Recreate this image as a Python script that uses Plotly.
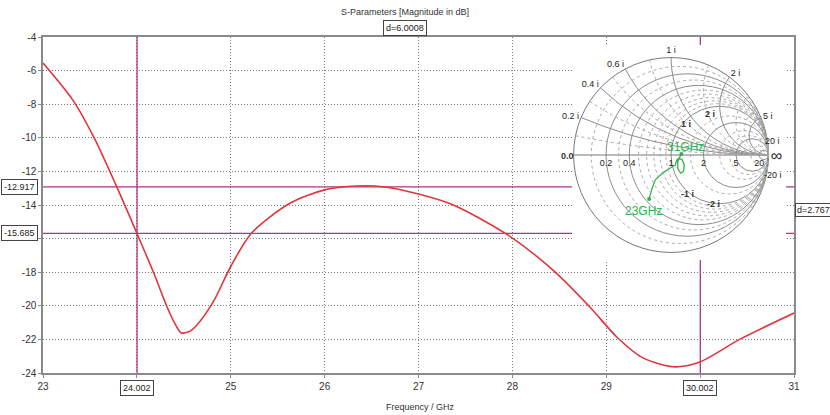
import plotly.graph_objects as go

# ---- main S11 curve ----
freq_ghz = [23.0, 23.32, 23.54, 23.78, 24.0, 24.18, 24.32, 24.40, 24.47, 24.55, 24.63, 24.81,
            25.0, 25.22, 25.63, 26.0, 26.34, 26.62, 27.0, 27.37, 27.95, 28.43, 28.82, 29.12,
            29.39, 29.71, 29.99, 30.42, 31.0]
s11_db = [-5.55, -7.77, -9.95, -12.85, -15.68, -18.05, -20.04, -21.0, -21.6, -21.55, -21.2, -19.8,
          -17.66, -15.68, -13.9, -13.1, -12.87, -12.91, -13.35, -14.0, -15.78, -17.86, -20.04, -21.9,
          -23.1, -23.63, -23.36, -22.0, -20.43]

# markers
marker_x = [24.002, 30.002]
marker_y = [-12.917, -15.685]
marker_x_labels = ["24.002", "30.002"]
marker_y_labels = ["-12.917", "-15.685"]
dx_label = "d=6.0008"
dy_label = "d=2.767"

x_range = [23, 31]
y_range = [-24, -4]
x_ticks = [23, 24, 25, 26, 27, 28, 29, 30, 31]
x_ticktext = ["23", "", "25", "26", "27", "28", "29", "", "31"]
y_ticks = [-4, -6, -8, -10, -12, -14, -16, -18, -20, -22, -24]
y_ticktext = ["-4", "-6", "-8", "-10", "-12", "-14", "", "-18", "-20", "-22", "-24"]

# ---- Smith chart trace (reflection coefficient) ----
gamma_re = [-0.225, -0.199, -0.162, -0.088, -0.013, 0.043, 0.061, 0.080, 0.117, 0.136, 0.128,
            0.099, 0.069, 0.069, 0.091, 0.106]
gamma_im = [-0.451, -0.356, -0.254, -0.186, -0.136, -0.102, -0.051, -0.034, -0.051, -0.102, -0.169,
            -0.186, -0.136, -0.068, -0.017, 0.010]
smith_real_ticks = [0.2, 0.4, 1, 2, 5, 20]
smith_imag_ticks = [0.2, 0.4, 0.6, 1, 2, 5]
smith_real_minor = [0.1, 0.3, 0.5, 0.6, 0.7, 0.8, 0.9, 1.5, 3, 4, 10]
smith_imag_minor = [0.1, 0.3, 0.5, 0.8, 1.5, 3, 4, 10, 20]

z = [(1 + complex(a, b)) / (1 - complex(a, b)) for a, b in zip(gamma_re, gamma_im)]
z_re = [v.real for v in z]
z_im = [v.imag for v in z]

FONT = "Liberation Sans Narrow, Liberation Sans, Arial, sans-serif"
RED = "#e0353b"
MAG = "#b0357f"
GREEN = "#2fb34a"
GRID = "#7a7a7a"

fig = go.Figure()

# marker lines
for mx in marker_x:
    fig.add_trace(go.Scatter(x=[mx, mx], y=y_range, mode="lines", line=dict(color=MAG, width=1.3),
                             showlegend=False, hoverinfo="skip"))
for my in marker_y:
    fig.add_trace(go.Scatter(x=x_range, y=[my, my], mode="lines", line=dict(color=MAG, width=1.3),
                             showlegend=False, hoverinfo="skip"))

fig.add_trace(go.Scatter(x=freq_ghz, y=s11_db, mode="lines",
                         line=dict(color=RED, width=1.6, shape="spline", smoothing=0.8),
                         showlegend=False, hoverinfo="x+y"))

# white backdrop of the inset (overlay axes in paper-like units)
fig.add_trace(go.Scatter(x=[0.7044, 0.9893, 0.9893, 0.7044, 0.7044], y=[0.336, 0.336, 0.976, 0.976, 0.336],
                         xaxis="x2", yaxis="y2", mode="lines", fill="toself", fillcolor="white",
                         line=dict(width=0, color="white"), showlegend=False, hoverinfo="skip"))

# dashed minor grid smith
fig.add_trace(go.Scattersmith(real=[1], imag=[0], mode="markers", marker=dict(opacity=0),
                              subplot="smith2", showlegend=False, hoverinfo="skip"))
fig.add_trace(go.Scattersmith(real=z_re, imag=z_im, mode="lines", line=dict(color=GREEN, width=1.3),
                              subplot="smith", showlegend=False))
fig.add_trace(go.Scattersmith(real=[z_re[0], z_re[-1]], imag=[z_im[0], z_im[-1]], mode="markers",
                              marker=dict(color=GREEN, size=4), subplot="smith", showlegend=False))

annotations = []
box = dict(bordercolor="#444", borderwidth=1, bgcolor="white", borderpad=2,
           font=dict(family=FONT, size=9, color="#222"), showarrow=False)
for my, lab in zip(marker_y, marker_y_labels):
    annotations.append(dict(text=lab, xref="paper", yref="y", x=-0.006, y=my, xanchor="right", yanchor="middle", **box))
for mx, lab in zip(marker_x, marker_x_labels):
    annotations.append(dict(text=lab, xref="x", yref="paper", x=mx, y=-0.045, xanchor="center", yanchor="middle", **box))
annotations.append(dict(text=dx_label, xref="paper", yref="paper", x=0.482, y=1.027, xanchor="center", yanchor="middle", **box))
box_r = dict(box)
box_r["borderpad"] = 1
annotations.append(dict(text=dy_label, xref="paper", yref="y", x=1.0015, y=(marker_y[0] + marker_y[1]) / 2,
                        xanchor="left", yanchor="middle", **box_r))
annotations.append(dict(text="S-Parameters [Magnitude in dB]", xref="paper", yref="paper", x=0.482, y=1.074,
                        xanchor="center", yanchor="middle", showarrow=False, font=dict(family=FONT, size=9, color="#333")))
annotations.append(dict(text="Frequency / GHz", xref="paper", yref="paper", x=0.502, y=-0.101,
                        xanchor="center", yanchor="middle", showarrow=False, font=dict(family=FONT, size=9, color="#333")))
# smith chart labels
sf = dict(family=FONT, size=9, color="#333")
annotations.append(dict(text="<b>0.0</b>", xref="paper", yref="paper", x=(576 - 43) / 751, y=(373 - 156) / 336,
                        showarrow=False, font=sf))
for txt, px, py in [("1 i", 693, 117), ("2 i", 717, 107), ("-1 i", 696, 194), ("-2 i", 722, 204)]:
    annotations.append(dict(text="<b>" + txt + "</b>", xref="paper", yref="paper", x=(px - 43) / 751, y=(373 - py) / 336,
                            showarrow=False, font=sf))
for txt, px, py in [("20 i", 782, 134), ("-20 i", 784, 175)]:
    annotations.append(dict(text=txt, xref="paper", yref="paper", x=(px - 43) / 751, y=(373 - py) / 336,
                            showarrow=False, font=dict(family=FONT, size=9, color="#222")))
annotations.append(dict(text="31GHz", xref="paper", yref="paper", x=(706 - 43) / 751, y=(373 - 138) / 336,
                        showarrow=False, font=dict(family=FONT, size=12, color=GREEN)))
annotations.append(dict(text="23GHz", xref="paper", yref="paper", x=(664 - 43) / 751, y=(373 - 211) / 336,
                        showarrow=False, font=dict(family=FONT, size=12, color=GREEN)))

smith_domain = dict(x=[0.7064, 0.9661], y=[0.3588, 0.9388])
axis_common = dict(showgrid=True, gridcolor=GRID, griddash="1px,2px", gridwidth=1, showline=True,
                   linecolor="#8a8a8a", linewidth=1.5, mirror=True, ticks="outside", ticklen=3,
                   tickcolor="#8a8a8a", zeroline=False, tickfont=dict(size=10, color="#333"))

fig.update_layout(
    width=830, height=415,
    margin=dict(l=43, r=36, t=37, b=42),
    paper_bgcolor="white", plot_bgcolor="white",
    font=dict(family=FONT, size=10, color="#333"),
    xaxis=dict(range=x_range, tickvals=x_ticks, ticktext=x_ticktext, **axis_common),
    yaxis=dict(range=y_range, tickvals=y_ticks, ticktext=y_ticktext, **axis_common),
    xaxis2=dict(overlaying="x", range=[0, 1], visible=False),
    yaxis2=dict(overlaying="y", range=[0, 1], visible=False),
    smith=dict(domain=smith_domain, bgcolor="rgba(0,0,0,0)",
               realaxis=dict(tickvals=smith_real_ticks, gridcolor="#8c8c8c", gridwidth=1, linecolor="#777",
                             tickfont=dict(family=FONT, size=9, color="#222"), ticks="", tickangle=0,
                             side="bottom"),
               imaginaryaxis=dict(tickvals=smith_imag_ticks, gridcolor="#8c8c8c", gridwidth=1, linecolor="#777",
                                  tickfont=dict(family=FONT, size=9, color="#222"), ticks="", ticksuffix=" i")),
    smith2=dict(domain=smith_domain, bgcolor="rgba(0,0,0,0)",
                realaxis=dict(tickvals=smith_real_minor, gridcolor="#a8a8a8", griddash="dot", showticklabels=False,
                              ticks="", showline=False),
                imaginaryaxis=dict(tickvals=smith_imag_minor, gridcolor="#a8a8a8", griddash="dot",
                                   showticklabels=False, ticks="", showline=False)),
    annotations=annotations,
)

fig.write_html("out.html")
